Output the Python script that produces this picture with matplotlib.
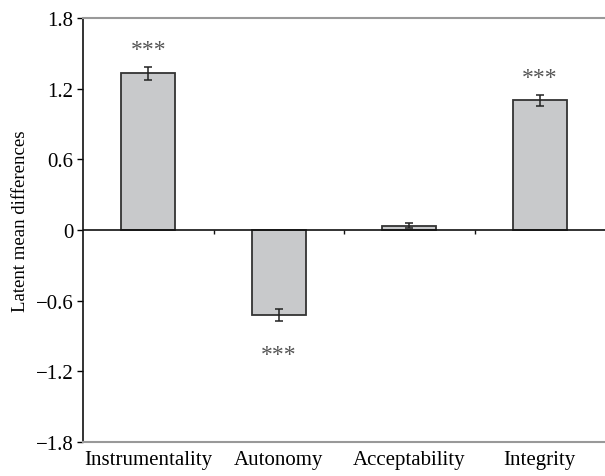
import numpy as np
import matplotlib.pyplot as plt

plt.rcParams['font.family'] = ['Liberation Serif', 'DejaVu Serif']

categories = ['Instrumentality', 'Autonomy', 'Acceptability', 'Integrity']
means = [1.33, -0.72, 0.037, 1.10]
errors = [0.055, 0.05, 0.02, 0.045]
stars = ['***', '***', '', '***']
yticks = [-1.8, -1.2, -0.6, 0, 0.6, 1.2, 1.8]

fig = plt.figure(figsize=(6.05, 4.77), dpi=100)
ax = fig.add_axes([83 / 605, 34 / 477, 522 / 605, 424 / 477])

x = np.arange(len(categories))
ax.bar(x, means, width=0.41, color='#c8c9cb', edgecolor='#333333', linewidth=1.3, zorder=2)
ax.errorbar(x, means, yerr=errors, fmt='none', ecolor='#222222', elinewidth=1.1,
            capsize=2.7, capthick=1.1, zorder=3)

# significance marks above / below the error bars
for xi, m, e, s in zip(x, means, errors, stars):
    if not s:
        continue
    if m >= 0:
        ax.annotate(s, (xi, m + e), xytext=(0, 5), textcoords='offset points',
                    ha='center', va='bottom', fontsize=17, color='#555555')
    else:
        ax.annotate(s, (xi, m - e), xytext=(0, -17), textcoords='offset points',
                    ha='center', va='top', fontsize=17, color='#555555')

# zero line with category separators
ax.axhline(0, color='#111111', linewidth=1.2, zorder=4)
ax.vlines(x[:-1] + 0.5, -0.035, 0, color='#111111', linewidth=1.0, zorder=4)

ax.set_xlim(-0.5, len(categories) - 0.5)
ax.set_ylim(-1.8, 1.8)
ax.set_yticks(yticks)
ax.set_yticklabels(['\u22121.8', '\u22121.2', '\u22120.6', '0', '0.6', '1.2', '1.8'])
ax.set_xticks(x)
ax.set_xticklabels(categories)

ax.tick_params(axis='x', length=0, pad=6, labelsize=15)
ax.tick_params(axis='y', length=4, width=1, pad=3, labelsize=15, direction='out')
ax.set_ylabel('Latent mean differences', fontsize=13.5, labelpad=5)
ax.yaxis.label.set_y(0.524)

ax.spines['right'].set_visible(False)
ax.spines['left'].set_color('#111111')
ax.spines['left'].set_linewidth(1.2)
for side in ['top', 'bottom']:
    ax.spines[side].set_color('#999999')
    ax.spines[side].set_linewidth(1.5)

fig.savefig('out.png', dpi=100)
